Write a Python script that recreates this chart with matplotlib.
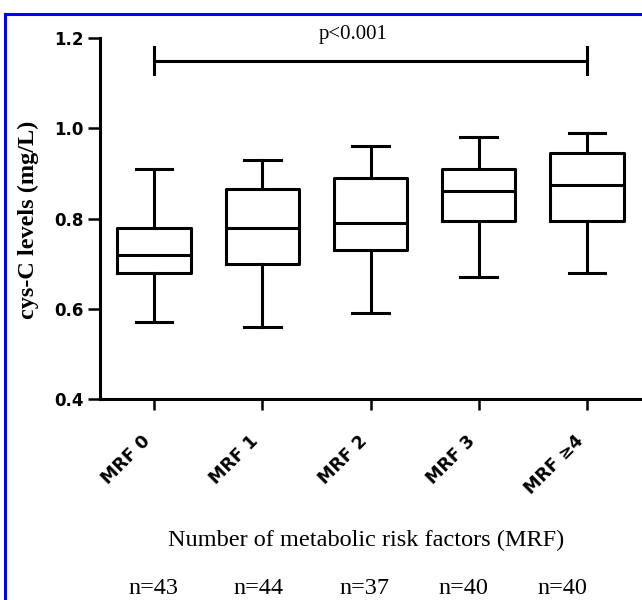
import matplotlib
matplotlib.use("Agg")
import matplotlib.pyplot as plt
from matplotlib.lines import Line2D

# data
groups = ["MRF 0", "MRF 1", "MRF 2", "MRF 3", "MRF \u22654"]
n_counts = ["n=43", "n=44", "n=37", "n=40", "n=40"]
whisker_low = [0.57, 0.56, 0.59, 0.67, 0.68]
q1 = [0.68, 0.70, 0.73, 0.795, 0.795]
median = [0.72, 0.78, 0.79, 0.86, 0.875]
q3 = [0.78, 0.865, 0.89, 0.91, 0.945]
whisker_high = [0.91, 0.93, 0.96, 0.98, 0.99]
p_text = "p<0.001"
p_level = 1.15

W, H = 642, 600
fig = plt.figure(figsize=(W / 100, H / 100), dpi=100)
ax = fig.add_axes([100 / W, 1 - 399 / H, 541 / W, 361 / H])

stats = []
for i in range(len(groups)):
    stats.append({"med": median[i], "q1": q1[i], "q3": q3[i],
                  "whislo": whisker_low[i], "whishi": whisker_high[i],
                  "fliers": []})

lw = 2.2
line = dict(color="black", linewidth=lw)
ax.bxp(stats, positions=range(len(groups)), widths=0.68, capwidths=0.34,
       showfliers=False, boxprops=line, whiskerprops=line, capprops=line,
       medianprops=line)

ax.set_xlim(-0.5, 4.5)
ax.set_ylim(0.4, 1.2)
ax.set_yticks([0.4, 0.6, 0.8, 1.0, 1.2])
ax.set_yticklabels(["0.4", "0.6", "0.8", "1.0", "1.2"])
ax.set_xticks(range(len(groups)))
ax.set_xticklabels(groups)

ax.spines["top"].set_visible(False)
ax.spines["right"].set_visible(False)
for s in ["left", "bottom"]:
    ax.spines[s].set_linewidth(2.2)
ax.tick_params(axis="y", direction="out", length=8.5, width=1.8, pad=3)
ax.tick_params(axis="x", direction="out", length=8, width=1.8, pad=25)

for lab in ax.get_yticklabels():
    lab.set_fontfamily("DejaVu Sans")
    lab.set_fontweight("bold")
    lab.set_fontsize(12)
for lab in ax.get_xticklabels():
    lab.set_fontfamily("DejaVu Sans")
    lab.set_fontweight("bold")
    lab.set_fontsize(12.5)
    lab.set_rotation(45)
    lab.set_ha("right")
    lab.set_va("bottom")
    lab.set_rotation_mode("anchor")

# significance bracket
ax.plot([0, 4], [p_level, p_level], color="black", lw=2.2, clip_on=False)
ax.plot([0, 0], [p_level - 0.03, p_level + 0.03], color="black", lw=2.2, clip_on=False)
ax.plot([4, 4], [p_level - 0.03, p_level + 0.03], color="black", lw=2.2, clip_on=False)
ax.text(1.84, 1.207, p_text, ha="center", va="center",
        family="Liberation Serif", fontsize=15)

fig.text(28 / W, 1 - 220 / H, "cys-C levels (mg/L)", rotation=90,
         ha="center", va="center", family="Liberation Serif",
         fontweight="bold", fontsize=17.5)
fig.text(366 / W, 1 - 540 / H, "Number of metabolic risk factors (MRF)",
         ha="center", va="center", family="Liberation Serif", fontsize=17.5)

n_x = [153, 258, 365, 463, 562]
for x, t in zip(n_x, n_counts):
    fig.text(x / W, 1 - 588 / H, t, ha="center", va="center",
             family="Liberation Serif", fontsize=17.5)

# blue frame
fig.add_artist(Line2D([5 / W, 5 / W], [0, 1 - 14 / H], color="#0000ff", lw=2.2))
fig.add_artist(Line2D([5 / W, 1], [1 - 14 / H, 1 - 14 / H], color="#0000ff", lw=2.2))

fig.savefig("out.png", dpi=100)
